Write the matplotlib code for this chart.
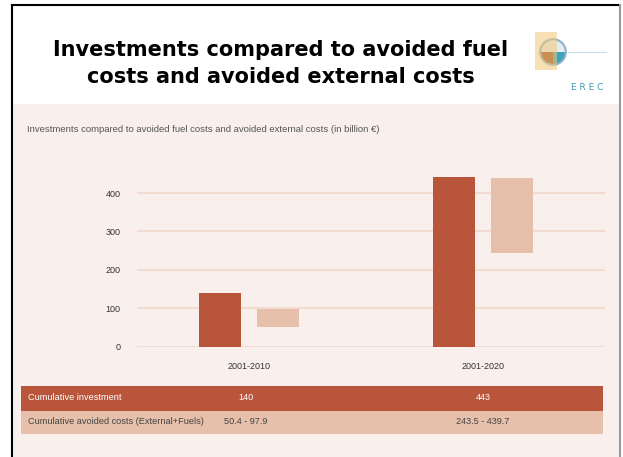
import matplotlib.pyplot as plt
from matplotlib.patches import Rectangle, Circle, Wedge

# data
periods = ["2001-2010", "2001-2020"]
investment = [140, 443]
avoided_low = [50.4, 243.5]
avoided_high = [97.9, 439.7]
yticks = [0, 100, 200, 300, 400]
row_labels = ["Cumulative investment", "Cumulative avoided costs (External+Fuels)"]
investment_txt = ["140", "443"]
avoided_txt = ["50.4 - 97.9", "243.5 - 439.7"]

W, H = 623, 457
dark = "#b8553a"
light = "#e6c0aa"
bg = "#f9f0ed"
narrow = ["Liberation Sans", "DejaVu Sans"]


def fx(px):
    return px / W


def fy(py):
    return 1 - py / H


fig = plt.figure(figsize=(W / 100, H / 100), dpi=100)
fig.patch.set_facecolor("white")

# pink panel + frame
fig.add_artist(Rectangle((fx(12), 0), fx(620) - fx(12), fy(104), transform=fig.transFigure,
                         facecolor=bg, edgecolor="none", zorder=0))
fig.add_artist(plt.Line2D([fx(12), fx(12)], [0, fy(5)], transform=fig.transFigure, color="black", lw=1.5))
fig.add_artist(plt.Line2D([fx(12), fx(620)], [fy(5), fy(5)], transform=fig.transFigure, color="black", lw=1.5))
fig.add_artist(plt.Line2D([fx(620), fx(620)], [0, fy(5)], transform=fig.transFigure, color="#999999", lw=1.5))

# title
fig.text(fx(281), fy(50), "Investments compared to avoided fuel", ha="center", va="center",
         fontsize=15, fontweight="bold")
fig.text(fx(281), fy(77), "costs and avoided external costs", ha="center", va="center",
         fontsize=15, fontweight="bold")

# logo
fig.add_artist(Rectangle((fx(535), fy(70)), fx(22), fy(32) - fy(70), transform=fig.transFigure,
                         facecolor="#f3c878", edgecolor="none", alpha=0.55))
lax = fig.add_axes([fx(537), fy(68), fx(32), fy(36) - fy(68)])
lax.set_xlim(-1, 1)
lax.set_ylim(-1, 1)
lax.axis("off")
lax.add_patch(Wedge((0, 0), 0.8, 0, 180, facecolor="#e4ecf3"))
lax.add_patch(Wedge((0, 0), 0.8, 180, 270, facecolor="#9a4a25"))
lax.add_patch(Wedge((0, 0), 0.8, 270, 360, facecolor="#3fa3b8"))
lax.add_patch(Circle((0, 0), 0.8, facecolor="none", edgecolor="#8ab2cc", lw=1.5))
fig.add_artist(plt.Line2D([fx(568), fx(606)], [fy(52), fy(52)], transform=fig.transFigure,
                          color="#c6dcea", lw=0.8))
fig.text(fx(587), fy(87), "E R E C", ha="center", va="center", fontsize=6.5, color="#3a9ab0")

# subtitle
fig.text(fx(27), fy(130), "Investments compared to avoided fuel costs and avoided external costs (in billion \u20ac)",
         ha="left", va="center", fontsize=6.8, color="#555555", family=narrow)

# chart
ax = fig.add_axes([fx(137), fy(346.7), fx(605) - fx(137), fy(170) - fy(346.7)])
ax.set_facecolor(bg)
for s in ax.spines.values():
    s.set_visible(False)
x = [0, 1]
off = 0.123
bw = 0.18
ax.bar([i - off for i in x], investment, width=bw, color=dark, zorder=3)
ax.bar([i + off for i in x], [h - l for h, l in zip(avoided_high, avoided_low)], bottom=avoided_low,
       width=bw, color=light, zorder=3)
ax.set_xlim(-0.479, 1.521)
ax.set_ylim(0, 460)
ax.set_yticks(yticks)
ax.set_yticklabels([str(t) for t in yticks], family=narrow, fontsize=6.5, color="#333333")
ax.set_xticks(x)
ax.set_xticklabels(periods, family=narrow, fontsize=6.5, color="#333333")
ax.tick_params(length=0, pad=12, axis="y")
ax.tick_params(length=0, pad=11, axis="x")
ax.grid(axis="y", color="#f4dbd1", lw=1.5, zorder=0)

# table
fig.add_artist(Rectangle((fx(21), fy(411)), fx(603) - fx(21), fy(386) - fy(411), transform=fig.transFigure,
                         facecolor=dark, edgecolor="none"))
fig.add_artist(Rectangle((fx(21), fy(434)), fx(603) - fx(21), fy(411) - fy(434), transform=fig.transFigure,
                         facecolor=light, edgecolor="none"))
fig.text(fx(28), fy(398), row_labels[0], ha="left", va="center", fontsize=6.6, color="white", family=narrow)
fig.text(fx(28), fy(422), row_labels[1], ha="left", va="center", fontsize=6.6, color="#444444", family=narrow)
for cx, t1, t2 in zip([246, 483], investment_txt, avoided_txt):
    fig.text(fx(cx), fy(398), t1, ha="center", va="center", fontsize=6.6, color="white", family=narrow)
    fig.text(fx(cx), fy(422), t2, ha="center", va="center", fontsize=6.6, color="#444444", family=narrow)

fig.savefig("out.png", dpi=100)
